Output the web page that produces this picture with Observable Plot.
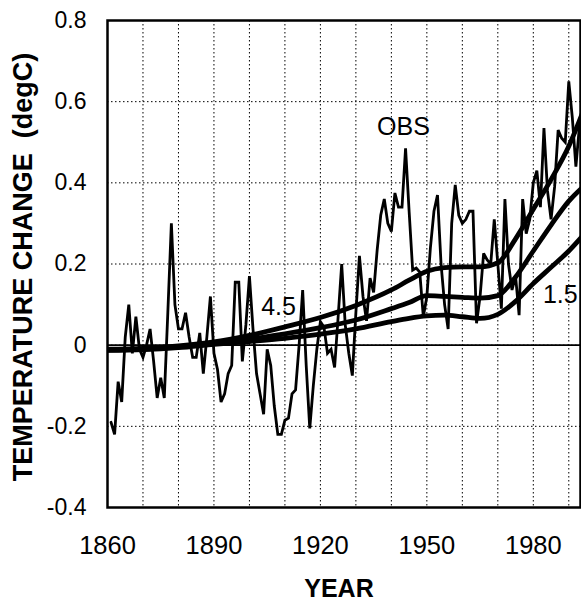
<!DOCTYPE html>
<html><head><meta charset="utf-8">
<script src="https://cdn.jsdelivr.net/npm/d3@7"></script>
<script src="https://cdn.jsdelivr.net/npm/@observablehq/plot@0.6"></script>
<style>
body{margin:0;background:#fff}
svg text{white-space:pre}
</style>
</head><body><div id="chart"></div>
<script>
// Observed annual temperature anomaly (degC), 1861–1993
const obsYears = d3.range(1861, 1994);
const obsValues = [
 -0.19,-0.22,-0.09,-0.14,0.02,0.10,-0.02,0.07,-0.01,-0.03,
 0.00,0.04,-0.04,-0.13,-0.08,-0.13,0.08,0.30,0.10,0.04,
 0.04,0.08,0.02,-0.03,-0.03,0.03,-0.07,0.02,0.12,-0.02,
 -0.06,-0.14,-0.12,-0.07,-0.05,0.155,0.155,-0.04,0.05,0.17,
 0.04,-0.07,-0.12,-0.17,-0.01,-0.05,-0.15,-0.22,-0.22,-0.185,
 -0.18,-0.12,-0.11,0.00,0.136,-0.05,-0.205,-0.10,-0.01,0.058,
 0.045,-0.02,-0.01,-0.055,0.07,0.20,0.05,-0.02,-0.075,0.08,
 0.22,0.12,0.06,0.165,0.13,0.235,0.32,0.36,0.30,0.28,
 0.375,0.34,0.34,0.485,0.33,0.185,0.19,0.18,0.07,0.12,
 0.24,0.33,0.37,0.20,0.10,0.04,0.30,0.395,0.32,0.30,
 0.31,0.33,0.33,0.054,0.12,0.226,0.21,0.20,0.31,0.20,
 0.09,0.36,0.20,0.136,0.17,0.074,0.36,0.275,0.31,0.40,
 0.43,0.34,0.535,0.38,0.31,0.39,0.53,0.51,0.50,0.65,
 0.56,0.44,0.54
];
// Model curves (climate sensitivity 4.5, middle, 1.5 degC)
const modelYears = [1860,1870,1880,1890,1900,1910,1920,1930,1940,1945,1950,1955,1960,1965,1970,1975,1980,1985,1990,1994];
const model45 = [-0.010,-0.008,-0.002,0.008,0.024,0.045,0.068,0.098,0.136,0.160,0.182,0.191,0.193,0.193,0.203,0.262,0.335,0.408,0.490,0.575];
const modelMid = [-0.012,-0.010,-0.004,0.005,0.015,0.028,0.043,0.062,0.090,0.105,0.122,0.120,0.118,0.116,0.122,0.168,0.232,0.296,0.355,0.390];
const model15 = [-0.013,-0.011,-0.006,0.002,0.009,0.017,0.027,0.040,0.058,0.066,0.072,0.074,0.070,0.066,0.076,0.108,0.152,0.192,0.232,0.270];
const xTickYears = [1860,1890,1920,1950,1980];
const xGridYears = [1870,1880,1890,1900,1910,1920,1930,1940,1950,1960,1970,1980,1990];
const yTickValues = [-0.4,-0.2,0,0.2,0.4,0.6,0.8];
const labelTexts = ["OBS","4.5","1.5"];
const labelYears = [1943.4,1908.2,1987.6];
const labelValues = [0.538,0.094,0.123];

const obs = obsYears.map((y,i)=>({year:y, value:obsValues[i]}));
const models = [];
[["4.5",model45],["mid",modelMid],["1.5",model15]].forEach(([name,vals])=>{
  modelYears.forEach((y,i)=>models.push({model:name, year:y, value:vals[i]}));
});
const labels = labelTexts.map((t,i)=>({text:t, year:labelYears[i], value:labelValues[i]}));
const fmtY = d => d === 0 ? "0" : (d < 0 ? "-" : "") + Math.abs(d).toFixed(1);

const chart = Plot.plot({
  width: 581, height: 603,
  marginLeft: 107, marginRight: 1, marginTop: 20, marginBottom: 96,
  style: {fontFamily: "'Liberation Sans', Arial, sans-serif", background: "white", color: "black"},
  x: {domain: [1860, 1993.3]},
  y: {domain: [-0.4, 0.8]},
  marks: [
    Plot.gridX(xGridYears, {stroke: "black", strokeOpacity: 1, strokeWidth: 1, strokeDasharray: "1.5,2.5"}),
    Plot.gridY(yTickValues, {stroke: "black", strokeOpacity: 1, strokeWidth: 1, strokeDasharray: "1.5,2.5"}),
    Plot.ruleY([0], {stroke: "black", strokeWidth: 1.8}),
    Plot.line(models, {x: "year", y: "value", z: "model", curve: "monotone-x", stroke: "black", strokeWidth: 4.8, clip: true}),
    Plot.line(obs, {x: "year", y: "value", stroke: "black", strokeWidth: 2.8, strokeLinejoin: "miter", strokeMiterlimit: 3}),
    Plot.axisX(xTickYears, {tickSize: 0, tickPadding: 28, fontSize: 25.5, label: null, tickFormat: d => String(d)}),
    Plot.axisY(yTickValues, {tickSize: 0, tickPadding: 21, fontSize: 23, label: null, tickFormat: fmtY}),
    Plot.frame({stroke: "black", strokeWidth: 2.5}),
    Plot.text(labels, {x: "year", y: "value", text: "text", fontSize: 25, fill: "black"}),
    Plot.text(["TEMPERATURE CHANGE  (degC)"], {frameAnchor: "left", textAnchor: "middle", lineAnchor: "middle", dx: -84.5, dy: 3, rotate: -90, fontSize: 27, fontWeight: "bold", fill: "black"}),
    Plot.text(["YEAR"], {frameAnchor: "bottom", textAnchor: "middle", lineAnchor: "middle", dx: -5, dy: 81, fontSize: 25, fontWeight: "bold", fill: "black"})
  ]
});
document.getElementById("chart").appendChild(chart);
</script>
</body></html>
